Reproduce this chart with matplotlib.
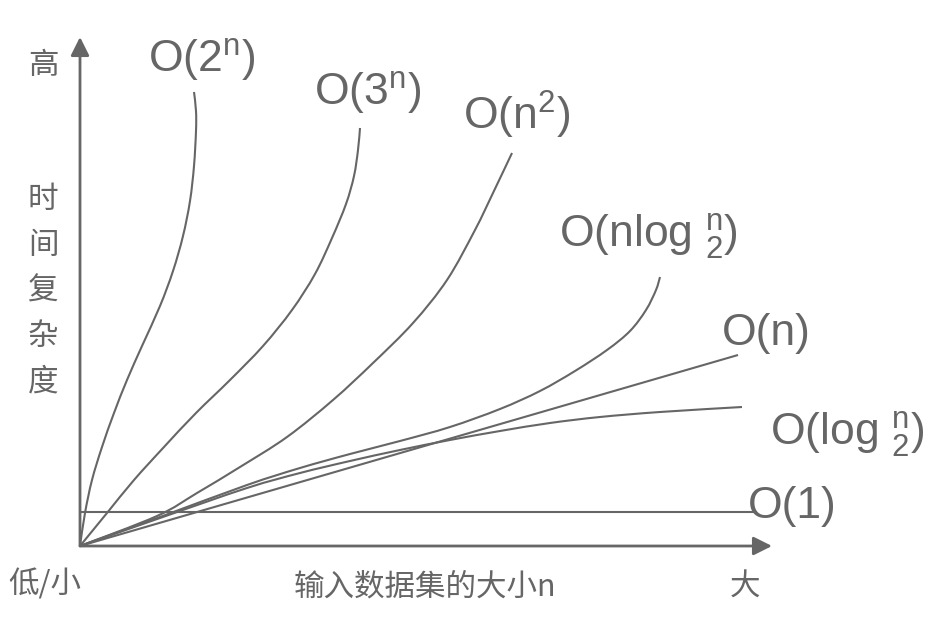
import matplotlib
matplotlib.use('Agg')
import matplotlib.pyplot as plt
from matplotlib.path import Path
from matplotlib.patches import PathPatch

# 坐标: x = 输入规模, y = 时间 (原点在左下角)
exp2_x = [0, 5, 12, 22, 34, 47, 62, 80, 93, 103, 110, 114, 116, 116, 114]
exp2_y = [0, 33, 66, 99, 133, 166, 200, 240, 275, 310, 345, 380, 415, 435, 454]

exp3_x = [0, 27, 54, 84, 116, 150, 183, 212, 235, 252, 266, 274, 278, 280]
exp3_y = [0, 33, 66, 99, 133, 166, 200, 236, 272, 308, 342, 370, 396, 418]

sq_x = [0, 77, 117, 160, 207, 253, 293, 333, 367, 395, 413, 432]
sq_y = [0, 30, 53, 79, 109, 146, 183, 223, 266, 316, 353, 393]

nlog_x = [0, 80, 167, 220, 270, 320, 370, 420, 460, 495, 527, 550, 566, 576, 580]
nlog_y = [0, 29, 61, 78, 92, 105, 119, 137, 155, 175, 196, 215, 236, 256, 269]

lin_x = [0, 658]
lin_y = [0, 191]

log_x = [0, 80, 167, 220, 270, 320, 370, 420, 470, 520, 580, 662]
log_y = [0, 28, 58, 73, 85, 96, 106, 115, 123, 129, 134, 139]

const_x = [0, 677]
const_y = [34, 34]

labels = [r'O(2$^{n}$)', r'O(3$^{n}$)', r'O(n$^{2}$)', r'O(nlog $_{2}^{n}$)',
          'O(n)', r'O(log $_{2}^{n}$)', 'O(1)']
label_pos = [(68, 474), (234, 441), (383, 416), (479, 299), (642, 201), (690, 101), (668, 28)]

gray = '#666666'

plt.rcParams['mathtext.fontset'] = 'custom'
plt.rcParams['mathtext.rm'] = 'Liberation Sans'
plt.rcParams['mathtext.it'] = 'Liberation Sans'
plt.rcParams['mathtext.bf'] = 'Liberation Sans'


def smooth_path(xs, ys):
    # 用贝塞尔曲线把读出的点平滑连接起来
    pts = list(zip(xs, ys))
    verts = [pts[0]]
    codes = [Path.MOVETO]
    n = len(pts)
    for i in range(n - 1):
        p0 = pts[max(i - 1, 0)]
        p1 = pts[i]
        p2 = pts[i + 1]
        p3 = pts[min(i + 2, n - 1)]
        c1 = (p1[0] + (p2[0] - p0[0]) / 6, p1[1] + (p2[1] - p0[1]) / 6)
        c2 = (p2[0] - (p3[0] - p1[0]) / 6, p2[1] - (p3[1] - p1[1]) / 6)
        verts += [c1, c2, p2]
        codes += [Path.CURVE4] * 3
    return Path(verts, codes)


fig = plt.figure(figsize=(9.44, 6.33), dpi=100)
ax = fig.add_axes([0, 0, 1, 1])
ax.set_xlim(-80, 864)
ax.set_ylim(-87, 546)
ax.axis('off')

# 坐标轴箭头
arrow = dict(arrowstyle='-|>,head_length=0.8,head_width=0.4', color=gray,
             lw=2, mutation_scale=14, shrinkA=0, shrinkB=0)
ax.annotate('', xy=(0, 509), xytext=(0, 0), arrowprops=arrow)
ax.annotate('', xy=(692, 0), xytext=(0, 0), arrowprops=arrow)

for xs, ys in [(exp2_x, exp2_y), (exp3_x, exp3_y), (sq_x, sq_y),
               (nlog_x, nlog_y), (log_x, log_y)]:
    ax.add_patch(PathPatch(smooth_path(xs, ys), fill=False, edgecolor=gray,
                           lw=1.5, capstyle='butt'))
for xs, ys in [(lin_x, lin_y), (const_x, const_y)]:
    ax.plot(xs, ys, color=gray, lw=1.5, solid_capstyle='butt')

for text, (x, y) in zip(labels, label_pos):
    ax.text(x, y, text, fontsize=32, color=gray, family='Liberation Sans',
            ha='left', va='baseline')

cjk = 'Noto Sans CJK SC'
ax.text(-37, 481, '高', fontsize=22, color=gray, family=cjk, ha='center', va='center')
for i, ch in enumerate('时间复杂度'):
    ax.text(-37, 346 - i * 45.5, ch, fontsize=22, color=gray, family=cjk,
            ha='center', va='center')
ax.text(-35, -39, '低/小', fontsize=22, color=gray, family=cjk, ha='center', va='center')
ax.text(345, -41, '输入数据集的大小n', fontsize=22, color=gray, family=cjk,
        ha='center', va='center')
ax.text(665, -41, '大', fontsize=22, color=gray, family=cjk, ha='center', va='center')

fig.savefig('out.png', dpi=100)
